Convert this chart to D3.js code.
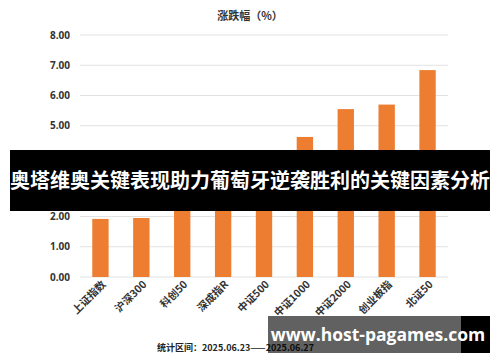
<!DOCTYPE html>
<html>
<head>
<meta charset="utf-8">
<script src="https://cdn.jsdelivr.net/npm/d3@7"></script>
<style>
  body { margin: 0; background: #fff; }
  svg { display: block; }
  text { font-family: "Noto Sans CJK SC", "Noto Sans", sans-serif; }
</style>
</head>
<body>
<svg width="500" height="362"></svg>
<script>
var categories = ["上证指数", "沪深300", "科创50", "深成指R", "中证500", "中证1000", "中证2000", "创业板指", "北证50"];
var changes = [1.92, 1.95, 3.14, 3.83, 3.97, 4.63, 5.55, 5.70, 6.84];
var yTicks = [0, 1, 2, 3, 4, 5, 6, 7, 8];

var svg = d3.select("svg"),
    width = +svg.attr("width"),
    height = +svg.attr("height");

var x = d3.scaleBand()
    .domain(categories)
    .range([80, 448])
    .paddingInner(0.6)
    .paddingOuter(0.3);

var y = d3.scaleLinear()
    .domain([0, 8])
    .range([277, 35]);

// gridlines
svg.append("g")
    .selectAll("line")
    .data(yTicks)
    .enter().append("line")
    .attr("x1", 80)
    .attr("x2", 448)
    .attr("y1", function(d) { return y(d); })
    .attr("y2", function(d) { return y(d); })
    .attr("stroke", "#e2e2e2")
    .attr("stroke-width", 1);

// y axis labels
var yAxis = svg.append("g")
    .attr("transform", "translate(70,0)")
    .call(d3.axisLeft(y).tickValues(yTicks).tickFormat(d3.format(".2f")).tickSize(0).tickPadding(0));
yAxis.select(".domain").remove();
yAxis.selectAll("text")
    .attr("font-size", 10)
    .attr("font-weight", "bold")
    .attr("fill", "#333")
    .style("font-family", "'Open Sans', sans-serif");

// bars
svg.append("g")
    .selectAll("rect")
    .data(changes)
    .enter().append("rect")
    .attr("x", function(d, i) { return x(categories[i]); })
    .attr("width", x.bandwidth())
    .attr("y", function(d) { return y(d); })
    .attr("height", function(d) { return y(0) - y(d); })
    .attr("fill", "#ED7D31");

// x axis labels
var xAxis = svg.append("g")
    .attr("transform", "translate(0,277)")
    .call(d3.axisBottom(x).tickSize(0).tickPadding(0));
xAxis.select(".domain").remove();
xAxis.selectAll("text")
    .attr("font-size", 10.5)
    .attr("font-weight", "bold")
    .attr("fill", "#333")
    .attr("text-anchor", "end")
    .attr("dy", null)
    .attr("transform", "translate(6,8) rotate(-45)");

// axis title
svg.append("text")
    .attr("x", 250)
    .attr("y", 20)
    .attr("text-anchor", "middle")
    .attr("font-size", 11)
    .attr("font-weight", "bold")
    .attr("fill", "#333")
    .text("涨跌幅（%）");

// footnote
svg.append("text")
    .attr("x", 157)
    .attr("y", 351)
    .attr("font-size", 9)
    .attr("font-weight", "bold")
    .attr("fill", "#222")
    .text("统计区间：2025.06.23——2025.06.27");

// title banner
svg.append("rect").attr("x", 10).attr("y", 150).attr("width", 480).attr("height", 61).attr("fill", "#000");
svg.append("rect").attr("x", 38).attr("y", 150).attr("width", 423).attr("height", 61).attr("fill", "#000").attr("fill-opacity", 0.62);
svg.append("text")
    .attr("x", 250)
    .attr("y", 188)
    .attr("text-anchor", "middle")
    .attr("font-size", 20)
    .attr("font-weight", "bold")
    .attr("fill", "#fff")
    .text("奥塔维奥关键表现助力葡萄牙逆袭胜利的关键因素分析");

// watermark
svg.append("rect").attr("x", 461).attr("y", 316).attr("width", 29).attr("height", 37).attr("fill", "#000");
svg.append("rect").attr("x", 268).attr("y", 316).attr("width", 193).attr("height", 37).attr("fill", "#000").attr("fill-opacity", 0.62);
svg.append("text")
    .attr("x", 378)
    .attr("y", 341)
    .attr("text-anchor", "middle")
    .attr("font-size", 17.5)
    .attr("font-weight", "bold")
    .attr("fill", "#fff")
    .style("font-family", "'Open Sans', sans-serif")
    .text("www.host-pagames.com");
</script>
</body>
</html>
